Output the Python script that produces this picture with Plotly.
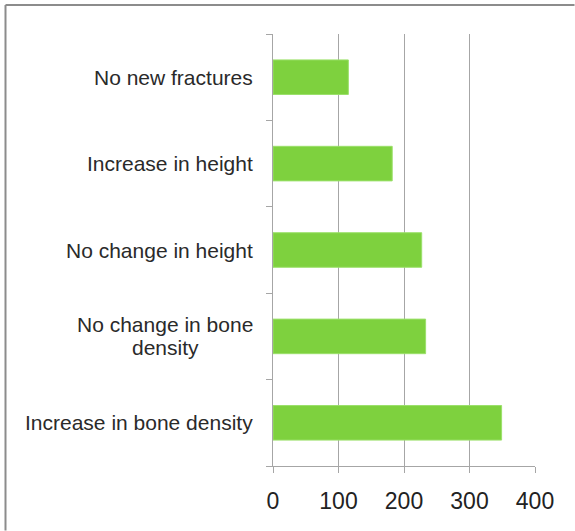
import plotly.graph_objects as go

categories = ["Increase in bone density", "No change in bone<br>density",
              "No change in height", "Increase in height", "No new fractures"]
values = [349, 233, 227, 182, 115]
x_ticks = [0, 100, 200, 300, 400]

W, H = 575, 531
L, R, T, B = 273, 40, 34, 65
pw, ph = W - L - R, H - T - B

fig = go.Figure()
fig.add_trace(go.Bar(
    y=list(range(len(categories))), x=values, orientation="h",
    marker=dict(color="#7ED13E", line=dict(color="#9BE06A", width=1)),
    width=0.4, hoverinfo="x",
))

font = "Liberation Sans, Arial, sans-serif"
for i, c in enumerate(categories):
    lines = c.split("<br>")
    n = len(lines)
    for j, ln in enumerate(lines):
        shift = ((n - 1) / 2 - j) * 23
        fig.add_annotation(x=(255 - L) / pw, xref="paper", y=i, yref="y",
                           text=ln, showarrow=False,
                           xanchor="right" if n == 1 else "center",
                           xshift=0 if n == 1 else -(255 - 165),
                           yshift=shift,
                           font=dict(family=font, size=21, color="#2a2a2a"))

# outer frame (top and left edges; right/bottom fall outside the picture)
frame = dict(color="#8C8C8C", width=2)
fx0 = (5.5 - L) / pw
fy1 = ((H - B) - 5) / ph
fig.add_shape(type="line", xref="paper", yref="paper",
              x0=fx0, x1=(W - 0.5 - L) / pw, y0=fy1, y1=fy1, line=frame)
fig.add_shape(type="line", xref="paper", yref="paper",
              x0=fx0, x1=fx0, y0=-(B - 0.5) / ph, y1=fy1, line=frame)

fig.update_layout(
    width=W, height=H, margin=dict(l=L, r=R, t=T, b=B, autoexpand=False),
    paper_bgcolor="white", plot_bgcolor="white", showlegend=False,
    xaxis=dict(range=[0, 400], tickvals=x_ticks, showgrid=True, gridcolor="#A6A6A6",
               gridwidth=1, zeroline=False, showline=True, linecolor="#A6A6A6",
               ticks="outside", ticklen=6, tickcolor="#A6A6A6",
               ticklabelstandoff=8,
               tickfont=dict(family=font, size=23, color="#222")),
    yaxis=dict(range=[-0.5, 4.5], tickvals=[-0.5, 0.5, 1.5, 2.5, 3.5, 4.5],
               showticklabels=False, showgrid=False, zeroline=False,
               showline=True, linecolor="#A6A6A6", ticks="outside", ticklen=6,
               tickcolor="#A6A6A6"),
)
fig.write_html("out.html", config={"displayModeBar": False},
               post_script="document.body.style.margin='0';")
